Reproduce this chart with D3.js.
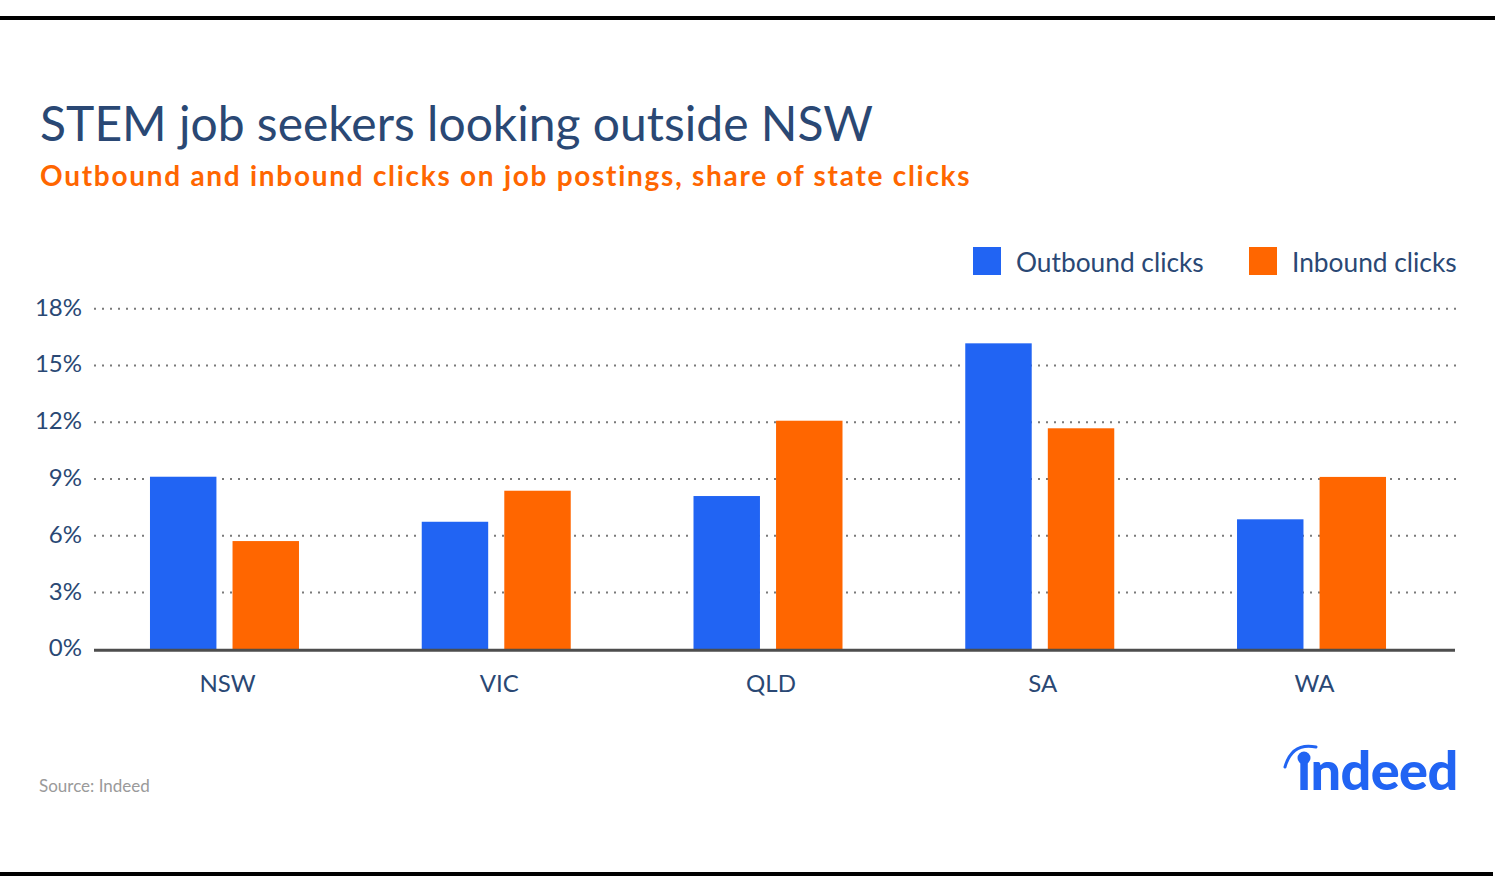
<!DOCTYPE html>
<html><head><meta charset="utf-8">
<script src="https://cdn.jsdelivr.net/npm/d3@7"></script>
<style>body{margin:0;background:#fff;}svg{display:block;}</style>
</head><body>
<script>
const categories = ["NSW","VIC","QLD","SA","WA"];
const outbound = [9.12, 6.74, 8.10, 16.17, 6.87];
const inbound = [5.72, 8.38, 12.08, 11.68, 9.11];
const seriesNames = ["Outbound clicks","Inbound clicks"];
const seriesColors = ["#2164f3","#ff6600"];
const yTicks = [0,3,6,9,12,15,18];

const W=1495,H=893;
const svg=d3.select("body").append("svg").attr("width",W).attr("height",H);
const font="Lato, 'Open Sans', sans-serif";
const navy="#2a4874";

svg.append("rect").attr("x",0).attr("y",16).attr("width",W).attr("height",4).attr("fill","#000");
svg.append("rect").attr("x",0).attr("y",872).attr("width",1493).attr("height",4).attr("fill","#000");

svg.append("text").attr("x",40).attr("y",141).attr("font-family",font).attr("font-size",48)
  .attr("fill",navy).text("STEM job seekers looking outside NSW");
svg.append("text").attr("x",40).attr("y",186).attr("font-family",font).attr("font-weight",700).attr("font-size",28)
  .attr("letter-spacing",1.72).attr("fill","#ff6600").text("Outbound and inbound clicks on job postings, share of state clicks");

const y=d3.scaleLinear().domain([0,18]).range([649.3,308.7]);
const x0=d3.scaleBand().domain(categories).range([88.6,1447.4]);
const x1=d3.scaleBand().domain([0,1]).range([-74.5,74.5]).paddingInner(0.195);

// grid
const grid=svg.append("g");
grid.selectAll("line").data(yTicks.filter(d=>d>0)).join("line")
  .attr("x1",94).attr("x2",1456).attr("y1",d=>y(d)).attr("y2",d=>y(d))
  .attr("stroke","#7a7a7a").attr("stroke-width",2).attr("stroke-dasharray","2,6");
svg.append("g").selectAll("text").data(yTicks).join("text")
  .attr("x",82).attr("y",d=>y(d)+7).attr("text-anchor","end")
  .attr("font-family",font).attr("font-size",24).attr("fill",navy).text(d=>d+"%");

// bars
const groups=svg.append("g").selectAll("g").data(categories).join("g")
  .attr("transform",d=>`translate(${x0(d)+x0.bandwidth()/2},0)`);
groups.selectAll("rect").data((d,i)=>[outbound[i],inbound[i]]).join("rect")
  .attr("x",(d,j)=>x1(j)).attr("width",x1.bandwidth())
  .attr("y",d=>y(d)).attr("height",d=>y(0)-y(d))
  .attr("fill",(d,j)=>seriesColors[j]);

// baseline axis
svg.append("line").attr("x1",94).attr("x2",1455).attr("y1",y(0)+1).attr("y2",y(0)+1)
  .attr("stroke","#4d4d4d").attr("stroke-width",3);
svg.append("g").selectAll("text").data(categories).join("text")
  .attr("x",d=>x0(d)+x0.bandwidth()/2+3).attr("y",692).attr("text-anchor","middle")
  .attr("font-family",font).attr("font-size",24).attr("fill",navy).text(d=>d);

// legend
const legX=[973,1249];
const leg=svg.append("g").selectAll("g").data(seriesNames).join("g")
  .attr("transform",(d,i)=>`translate(${legX[i]},247)`);
leg.append("rect").attr("width",28).attr("height",28).attr("fill",(d,i)=>seriesColors[i]);
leg.append("text").attr("x",43).attr("y",25).attr("font-family",font).attr("font-size",26.3)
  .attr("fill",navy).text(d=>d);

// source
svg.append("text").attr("x",39).attr("y",792).attr("font-family",font).attr("font-size",17)
  .attr("fill","#9a9a9a").text("Source: Indeed");

// logo
const logo=svg.append("g");
logo.append("text").attr("x",1297).attr("y",790).attr("font-family",font).attr("font-weight",900)
  .attr("font-size",54).attr("fill","#2164f3").attr("letter-spacing",-0.6).text("\u0131ndeed");
logo.append("circle").attr("cx",1304).attr("cy",758).attr("r",6.5).attr("fill","#2164f3");
logo.append("path").attr("d","M1285,767 Q1292,742 1316,747").attr("fill","none")
  .attr("stroke","#2164f3").attr("stroke-width",3).attr("stroke-linecap","round");
</script>
</body></html>
